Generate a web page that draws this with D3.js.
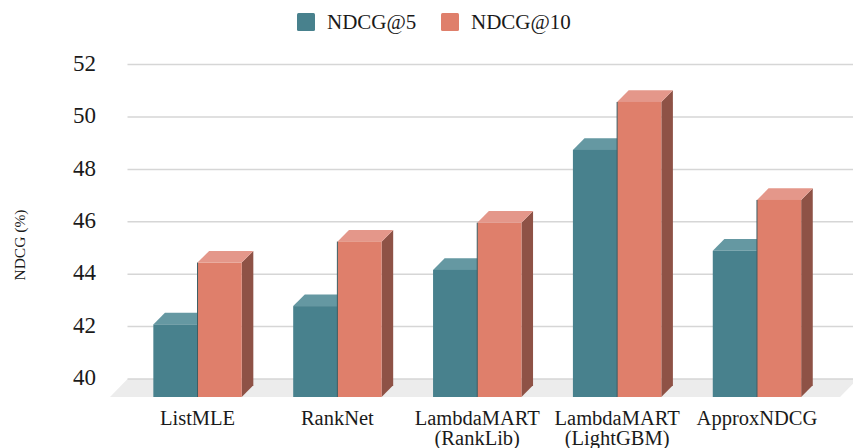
<!DOCTYPE html>
<html>
<head>
<meta charset="utf-8">
<script src="https://cdn.jsdelivr.net/npm/d3@7"></script>
<style>
  html, body { margin: 0; padding: 0; background: #ffffff; }
  svg { display: block; }
  text { fill: #1a1a1a; }
</style>
</head>
<body>
<svg id="chart" width="853" height="448" font-family="'Liberation Serif', 'Times New Roman', serif"></svg>
<script>
// Ranking models and their NDCG scores (%)
const categories = [
  ["ListMLE"],
  ["RankNet"],
  ["LambdaMART", "(RankLib)"],
  ["LambdaMART", "(LightGBM)"],
  ["ApproxNDCG"]
];
const seriesNames = ["NDCG@5", "NDCG@10"];
const ndcg5  = [42.77, 43.47, 44.85, 49.43, 45.58];
const ndcg10 = [45.13, 45.93, 46.65, 51.26, 47.52];
const yTicks = [40, 42, 44, 46, 48, 50, 52];

const serif = "'Liberation Serif', 'Times New Roman', serif";

const colors = {
  "NDCG@5":  { front: "#48818d", top: "#6598a2", side: "#33626b" },
  "NDCG@10": { front: "#df7f6b", top: "#e4978a", side: "#8e5246" }
};

const svg = d3.select("#chart");

// Oblique 3-D layout: bars sit on the front edge of the floor,
// the gridlines lie on the back wall.
const wallDX = 17.5, wallDY = -18;   // floor front edge -> back wall
const barDX = 11.6, barDY = -11.7;   // depth of one column

const catKeys = categories.map(c => c.join(" "));
const x = d3.scaleBand()
  .domain(catKeys)
  .range([127.6, 826.9])
  .paddingInner(0.368)
  .paddingOuter(0.184);
const xs = d3.scaleBand().domain(seriesNames).range([0, x.bandwidth()]);

// value scale in the plane of the column fronts
const y = d3.scaleLinear().domain([40, 52]).range([397, 82.6]);

// floor
const floorFront = [110, 840];
svg.append("polygon")
  .attr("points", [
    [floorFront[0], y(40)],
    [floorFront[1], y(40)],
    [floorFront[1] + wallDX, y(40) + wallDY],
    [floorFront[0] + wallDX, y(40) + wallDY]
  ].map(p => p.join(",")).join(" "))
  .attr("fill", "#ececec");

// gridlines on the back wall
svg.append("g").selectAll("line")
  .data(yTicks)
  .join("line")
  .attr("x1", floorFront[0] + wallDX)
  .attr("x2", 853)
  .attr("y1", d => y(d) + wallDY)
  .attr("y2", d => y(d) + wallDY)
  .attr("stroke", "#d6d6d6")
  .attr("stroke-width", 1.5);

// y tick labels
svg.append("g").selectAll("text")
  .data(yTicks)
  .join("text")
  .attr("font-family", serif)
  .attr("x", 96)
  .attr("y", d => y(d) + wallDY + 1)
  .attr("text-anchor", "end")
  .attr("dominant-baseline", "middle")
  .attr("font-size", 23)
  .text(d => d);

// y axis title
svg.append("text")
  .attr("font-family", serif)
  .attr("transform", "translate(25,245) rotate(-90)")
  .attr("text-anchor", "middle")
  .attr("font-size", 15.5)
  .text("NDCG (%)");

// columns
const rows = catKeys.map((k, i) => ({ key: k, values: [ndcg5[i], ndcg10[i]] }));
const groups = svg.append("g").selectAll("g")
  .data(rows)
  .join("g")
  .attr("transform", d => `translate(${x(d.key)},0)`);

seriesNames.forEach((s, si) => {
  const c = colors[s];
  groups.each(function(d) {
    const g = d3.select(this);
    const v = d.values[si];
    const x0 = xs(s), w = xs.bandwidth();
    const yt = y(v), yb = y(40);
    // side face
    g.append("polygon")
      .attr("points", [
        [x0 + w, yt], [x0 + w + barDX, yt + barDY],
        [x0 + w + barDX, yb + barDY], [x0 + w, yb]
      ].map(p => p.join(",")).join(" "))
      .attr("fill", c.side);
    // top face
    g.append("polygon")
      .attr("points", [
        [x0, yt], [x0 + w, yt],
        [x0 + w + barDX, yt + barDY], [x0 + barDX, yt + barDY]
      ].map(p => p.join(",")).join(" "))
      .attr("fill", c.top);
    // front face
    g.append("rect")
      .attr("x", x0)
      .attr("y", yt)
      .attr("width", w)
      .attr("height", yb - yt)
      .attr("fill", c.front);
    if (si > 0) {
      g.append("line")
        .attr("x1", x0).attr("x2", x0)
        .attr("y1", yt).attr("y2", yb)
        .attr("stroke", "#3c5e64")
        .attr("stroke-width", 1);
    }
  });
});

// category labels
const labels = svg.append("g").selectAll("text")
  .data(categories.map((c, i) => ({ lines: c, key: catKeys[i] })))
  .join("text")
  .attr("font-family", serif)
  .attr("text-anchor", "middle")
  .attr("font-size", 20.5)
  .attr("x", d => x(d.key) + x.bandwidth() / 2);
labels.selectAll("tspan")
  .data(d => d.lines.map(t => ({ t, cx: x(d.key) + x.bandwidth() / 2 })))
  .join("tspan")
  .attr("x", d => d.cx)
  .attr("y", (d, i) => 424.5 + i * 20)
  .text(d => d.t);

// legend
const legendX = [297, 441];
const legend = svg.append("g").selectAll("g")
  .data(seriesNames)
  .join("g")
  .attr("transform", (d, i) => `translate(${legendX[i]},13)`);
legend.append("rect")
  .attr("width", 18).attr("height", 18).attr("rx", 1.5)
  .attr("fill", d => colors[d].front);
legend.append("text")
  .attr("font-family", serif)
  .attr("x", 30).attr("y", 15.5)
  .attr("font-size", 21)
  .text(d => d);
</script>
</body>
</html>
